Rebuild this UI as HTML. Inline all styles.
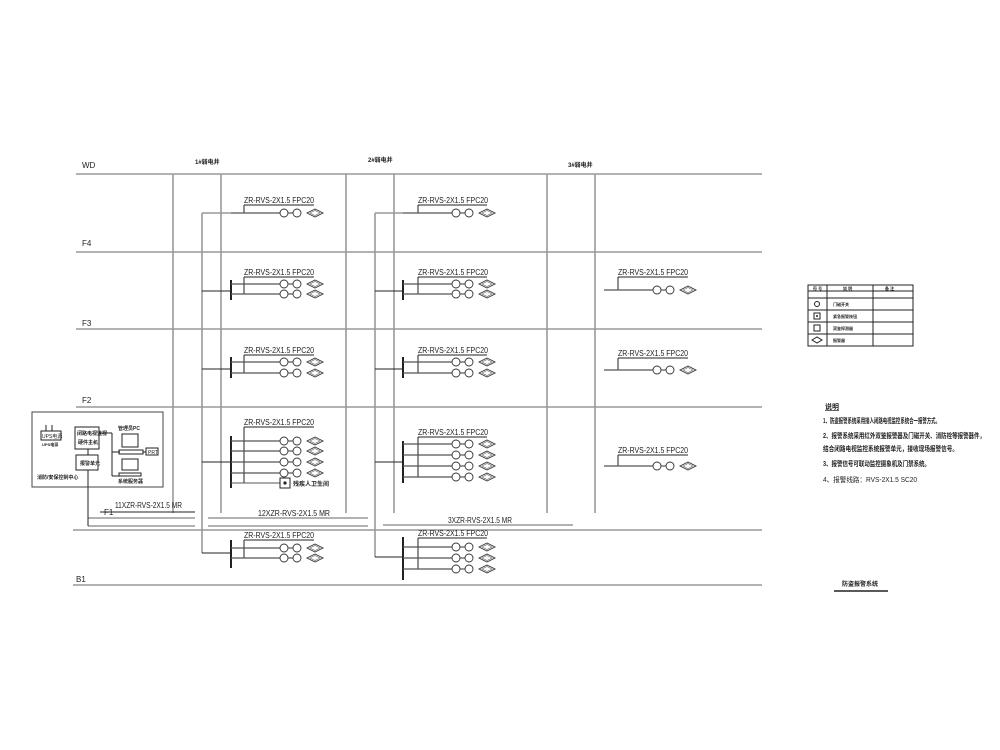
<!DOCTYPE html>
<html><head><meta charset="utf-8"><style>
body{margin:0;background:#fff}
svg{display:block}
text{font-family:"Liberation Sans","Noto Sans CJK SC",sans-serif;fill:#222}
.g{stroke:#999;stroke-width:1.6;fill:none}
.k{stroke:#222;stroke-width:1;fill:none}
.lb{font-size:8px}
.cn{font-size:6px;font-weight:bold}
</style></head><body>
<svg width="1000" height="750" viewBox="0 0 1000 750" xmlns="http://www.w3.org/2000/svg">
<defs>
<g id="br">
<line x1="0" y1="0" x2="49" y2="0" stroke="#555" stroke-width="1.2"/>
<circle cx="53" cy="0" r="4" fill="none" stroke="#333" stroke-width="0.9"/>
<line x1="57" y1="0" x2="62" y2="0" stroke="#333"/>
<circle cx="66" cy="0" r="4" fill="none" stroke="#333" stroke-width="0.9"/>
<polygon points="76,0 84,-4 92,0 84,4" fill="none" stroke="#333" stroke-width="0.9"/>
<polygon points="79,0 84,-2.5 89,0 84,2.5" fill="none" stroke="#666" stroke-width="0.6"/>
</g>
</defs>

<g class="g">
<line x1="76" y1="174" x2="762" y2="174"/>
<line x1="76" y1="252" x2="762" y2="252"/>
<line x1="76" y1="329" x2="762" y2="329"/>
<line x1="76" y1="407" x2="762" y2="407"/>
<line x1="73" y1="530" x2="762" y2="530"/>
<line x1="73" y1="585" x2="762" y2="585"/>
<line x1="173" y1="174" x2="173" y2="513"/>
<line x1="221" y1="174" x2="221" y2="513"/>
<line x1="346" y1="174" x2="346" y2="513"/>
<line x1="394" y1="174" x2="394" y2="513"/>
<line x1="547" y1="174" x2="547" y2="513"/>
<line x1="595" y1="174" x2="595" y2="513"/>
<line x1="202" y1="213" x2="202" y2="553"/>
<line x1="375" y1="213" x2="375" y2="557"/>
<line x1="88" y1="518" x2="195" y2="518"/>
<line x1="88" y1="526" x2="195" y2="526"/>
<line x1="208" y1="518" x2="368" y2="518"/>
<line x1="208" y1="526" x2="368" y2="526"/>
<line x1="383" y1="525" x2="573" y2="525"/>
</g>
<g class="k">
<line x1="88" y1="470" x2="88" y2="526"/>
<line x1="100" y1="512" x2="195" y2="512"/>
</g>
<text x="82" y="168" class="lb">WD</text>
<text x="82" y="246" class="lb">F4</text>
<text x="82" y="326" class="lb">F3</text>
<text x="82" y="403" class="lb">F2</text>
<text x="104" y="515" class="lb">F1</text>
<text x="76" y="582" class="lb">B1</text>
<text x="195" y="164" class="cn">1#弱电井</text>
<text x="368" y="162" class="cn">2#弱电井</text>
<text x="568" y="167" class="cn">3#弱电井</text>
<text x="115" y="508" class="lb" textLength="67" lengthAdjust="spacingAndGlyphs">11XZR-RVS-2X1.5 MR</text>
<text x="258" y="516" class="lb" textLength="72" lengthAdjust="spacingAndGlyphs">12XZR-RVS-2X1.5 MR</text>
<text x="448" y="523" class="lb" textLength="64" lengthAdjust="spacingAndGlyphs">3XZR-RVS-2X1.5 MR</text>

<g class="k">
<line x1="202" y1="213" x2="231" y2="213" stroke="#999" stroke-width="1.4"/>
<line x1="244" y1="205" x2="314" y2="205"/><line x1="244" y1="205" x2="244" y2="213"/>
<line x1="202" y1="291" x2="231" y2="291"/><line x1="231" y1="280" x2="231" y2="300" stroke-width="2"/>
<line x1="244" y1="277" x2="314" y2="277"/><line x1="244" y1="277" x2="244" y2="294"/>
<line x1="202" y1="369" x2="231" y2="369"/><line x1="231" y1="357" x2="231" y2="378" stroke-width="2"/>
<line x1="244" y1="355" x2="314" y2="355"/><line x1="244" y1="355" x2="244" y2="373"/>
<line x1="202" y1="462" x2="231" y2="462"/><line x1="231" y1="436" x2="231" y2="488" stroke-width="2"/>
<line x1="244" y1="427" x2="314" y2="427"/><line x1="244" y1="427" x2="244" y2="483"/>
<line x1="231" y1="483" x2="280" y2="483" stroke="#555"/>
<rect x="280" y="478" width="10" height="10"/>
<line x1="202" y1="553" x2="231" y2="553"/><line x1="231" y1="540" x2="231" y2="568" stroke-width="2"/>
<line x1="244" y1="540" x2="314" y2="540"/><line x1="244" y1="540" x2="244" y2="558"/>
</g>
<circle cx="285" cy="483" r="1.6" fill="#222"/>
<text x="293" y="486" class="cn">残疾人卫生间</text>
<use href="#br" x="231" y="213"/>
<use href="#br" x="231" y="284"/><use href="#br" x="231" y="294"/>
<use href="#br" x="231" y="362"/><use href="#br" x="231" y="373"/>
<use href="#br" x="231" y="441"/><use href="#br" x="231" y="451"/><use href="#br" x="231" y="462"/><use href="#br" x="231" y="473"/>
<use href="#br" x="231" y="548"/><use href="#br" x="231" y="558"/>
<text x="244" y="203" class="lb" textLength="70" lengthAdjust="spacingAndGlyphs">ZR-RVS-2X1.5 FPC20</text>
<text x="244" y="275" class="lb" textLength="70" lengthAdjust="spacingAndGlyphs">ZR-RVS-2X1.5 FPC20</text>
<text x="244" y="353" class="lb" textLength="70" lengthAdjust="spacingAndGlyphs">ZR-RVS-2X1.5 FPC20</text>
<text x="244" y="425" class="lb" textLength="70" lengthAdjust="spacingAndGlyphs">ZR-RVS-2X1.5 FPC20</text>
<text x="244" y="538" class="lb" textLength="70" lengthAdjust="spacingAndGlyphs">ZR-RVS-2X1.5 FPC20</text>

<g class="k">
<line x1="375" y1="213" x2="403" y2="213" stroke="#999" stroke-width="1.4"/>
<line x1="418" y1="205" x2="487" y2="205"/><line x1="418" y1="205" x2="418" y2="213"/>
<line x1="375" y1="291" x2="403" y2="291"/><line x1="403" y1="280" x2="403" y2="300" stroke-width="2"/>
<line x1="418" y1="277" x2="487" y2="277"/><line x1="418" y1="277" x2="418" y2="294"/>
<line x1="375" y1="369" x2="403" y2="369"/><line x1="403" y1="357" x2="403" y2="378" stroke-width="2"/>
<line x1="418" y1="355" x2="487" y2="355"/><line x1="418" y1="355" x2="418" y2="373"/>
<line x1="375" y1="462" x2="403" y2="462"/><line x1="403" y1="441" x2="403" y2="483" stroke-width="2"/>
<line x1="418" y1="437" x2="487" y2="437"/><line x1="418" y1="437" x2="418" y2="477"/>
<line x1="375" y1="557" x2="403" y2="557"/><line x1="403" y1="537" x2="403" y2="580" stroke-width="2"/>
<line x1="418" y1="538" x2="487" y2="538"/><line x1="418" y1="538" x2="418" y2="569"/>
</g>
<use href="#br" x="403" y="213"/>
<use href="#br" x="403" y="284"/><use href="#br" x="403" y="294"/>
<use href="#br" x="403" y="362"/><use href="#br" x="403" y="373"/>
<use href="#br" x="403" y="444"/><use href="#br" x="403" y="455"/><use href="#br" x="403" y="466"/><use href="#br" x="403" y="477"/>
<use href="#br" x="403" y="547"/><use href="#br" x="403" y="558"/><use href="#br" x="403" y="569"/>
<text x="418" y="203" class="lb" textLength="70" lengthAdjust="spacingAndGlyphs">ZR-RVS-2X1.5 FPC20</text>
<text x="418" y="275" class="lb" textLength="70" lengthAdjust="spacingAndGlyphs">ZR-RVS-2X1.5 FPC20</text>
<text x="418" y="353" class="lb" textLength="70" lengthAdjust="spacingAndGlyphs">ZR-RVS-2X1.5 FPC20</text>
<text x="418" y="435" class="lb" textLength="70" lengthAdjust="spacingAndGlyphs">ZR-RVS-2X1.5 FPC20</text>
<text x="418" y="536" class="lb" textLength="70" lengthAdjust="spacingAndGlyphs">ZR-RVS-2X1.5 FPC20</text>

<g class="k">
<line x1="618" y1="277" x2="688" y2="277"/><line x1="618" y1="277" x2="618" y2="290"/>
<line x1="618" y1="358" x2="688" y2="358"/><line x1="618" y1="358" x2="618" y2="370"/>
<line x1="618" y1="455" x2="688" y2="455"/><line x1="618" y1="455" x2="618" y2="466"/>
</g>
<use href="#br" x="604" y="290"/>
<use href="#br" x="604" y="370"/>
<use href="#br" x="604" y="466"/>
<text x="618" y="275" class="lb" textLength="70" lengthAdjust="spacingAndGlyphs">ZR-RVS-2X1.5 FPC20</text>
<text x="618" y="356" class="lb" textLength="70" lengthAdjust="spacingAndGlyphs">ZR-RVS-2X1.5 FPC20</text>
<text x="618" y="453" class="lb" textLength="70" lengthAdjust="spacingAndGlyphs">ZR-RVS-2X1.5 FPC20</text>

<g class="k">
<rect x="32" y="412" width="131" height="75" stroke="#444"/>
<rect x="41" y="431" width="20" height="9"/>
<line x1="46" y1="425" x2="46" y2="431"/><line x1="52" y1="425" x2="52" y2="431"/>
<rect x="75" y="427" width="24" height="22"/>
<rect x="76" y="455" width="22" height="15"/>
<line x1="88" y1="449" x2="88" y2="455"/>
<line x1="99" y1="433" x2="112" y2="433"/><line x1="112" y1="433" x2="112" y2="476"/>
<line x1="112" y1="452" x2="120" y2="452"/><line x1="112" y1="476" x2="120" y2="476"/>
<rect x="122" y="434" width="16" height="13"/>
<rect x="119" y="450" width="24" height="4"/>
<line x1="143" y1="452" x2="146" y2="452"/>
<rect x="146" y="448" width="12" height="7"/>
<rect x="122" y="459" width="16" height="11"/>
<rect x="119" y="473" width="22" height="3"/>
</g>
<text x="42" y="438" style="font-size:5px">UPS电源</text>
<text x="42" y="446" style="font-size:4px;font-weight:bold">UPS电源</text>
<text x="77" y="435" style="font-size:5px;font-weight:bold">闭路电视监视</text>
<text x="78" y="444" style="font-size:5px;font-weight:bold">硬件主机</text>
<text x="80" y="465" style="font-size:5px;font-weight:bold">报警单元</text>
<text x="118" y="430" style="font-size:5px;font-weight:bold">管理员PC</text>
<text x="148" y="454" style="font-size:5px">PRT</text>
<text x="118" y="483" style="font-size:5px;font-weight:bold">系统服务器</text>
<text x="37" y="479" style="font-size:5px;font-weight:bold">消防/安保控制中心</text>

<g class="k" stroke="#444">
<rect x="808" y="285" width="105" height="61"/>
<line x1="808" y1="291" x2="913" y2="291"/>
<line x1="808" y1="298" x2="913" y2="298"/>
<line x1="808" y1="310" x2="913" y2="310"/>
<line x1="808" y1="322" x2="913" y2="322"/>
<line x1="808" y1="334" x2="913" y2="334"/>
<line x1="827" y1="285" x2="827" y2="346"/>
<line x1="873" y1="285" x2="873" y2="346"/>
<circle cx="817" cy="304" r="2.5"/>
<rect x="814" y="313" width="6" height="6"/>
<rect x="814" y="325" width="6" height="6"/>
<polygon points="812,340 817,337 822,340 817,343"/>
</g>
<circle cx="817" cy="316" r="1" fill="#222"/>
<text x="813" y="290" style="font-size:4px;font-weight:bold">符 号</text>
<text x="843" y="290" style="font-size:4px;font-weight:bold">说 明</text>
<text x="885" y="290" style="font-size:4px;font-weight:bold">备 注</text>
<text x="833" y="306" style="font-size:4px;font-weight:bold">门磁开关</text>
<text x="833" y="318" style="font-size:4px;font-weight:bold">紧急报警按钮</text>
<text x="833" y="330" style="font-size:4px;font-weight:bold">双鉴探测器</text>
<text x="833" y="342" style="font-size:4px;font-weight:bold">报警器</text>

<text x="825" y="409" style="font-size:7px;font-weight:bold;text-decoration:underline">说明</text>
<text x="823" y="423" style="font-size:7px;font-weight:bold" textLength="117" lengthAdjust="spacingAndGlyphs">1、防盗报警系统采用接入闭路电视监控系统合一报警方式。</text>
<text x="823" y="438" style="font-size:7px;font-weight:bold" textLength="162" lengthAdjust="spacingAndGlyphs">2、报警系统采用红外双鉴报警器及门磁开关、消防栓等报警器件，</text>
<text x="823" y="451" style="font-size:7px;font-weight:bold" textLength="135" lengthAdjust="spacingAndGlyphs">结合闭路电视监控系统报警单元，接收现场报警信号。</text>
<text x="823" y="466" style="font-size:7px;font-weight:bold" textLength="107" lengthAdjust="spacingAndGlyphs">3、报警信号可联动监控摄象机及门禁系统。</text>
<text x="823" y="482" style="font-size:7px" textLength="94" lengthAdjust="spacingAndGlyphs">4、报警线路：RVS-2X1.5 SC20</text>
<text x="842" y="586" style="font-size:6px;font-weight:bold">防盗报警系统</text>
<line x1="834" y1="591" x2="888" y2="591" stroke="#222" stroke-width="1.5"/>
</svg>
</body></html>
